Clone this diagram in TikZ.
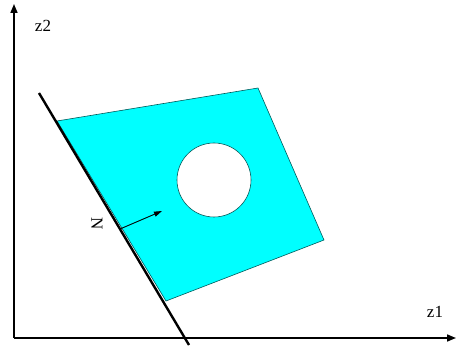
\documentclass[tikz,border=0pt]{standalone}
\usepackage{fontspec}
\setmainfont{Liberation Serif}
\usetikzlibrary{arrows.meta}
\definecolor{aqua}{RGB}{0,255,255}
\definecolor{edge}{RGB}{0,90,90}
\begin{document}
\begin{tikzpicture}[x=1pt,y=-1pt,
  axis/.style={line width=1.6pt,-{Triangle[length=9pt,width=7pt]}},
  lbl/.style={font=\fontsize{17}{17}\selectfont,inner sep=0pt}]
\useasboundingbox (0,0) rectangle (458,347);
\coordinate (O) at (14,338);
\coordinate (Y) at (14,4);
\coordinate (X) at (456,338);
\draw[axis] (O) -- (Y);
\draw[axis] (O) -- (X);
\node[lbl] (z2) at (43,26) {z2};
\node[lbl] (z1) at (435,312) {z1};
\coordinate (A) at (57,121);
\coordinate (B) at (258,88);
\coordinate (C) at (324,240);
\coordinate (D) at (166,301);
\draw[fill=aqua,draw=edge,line width=0.6pt] (A) -- (B) -- (C) -- (D) -- cycle;
\node[circle,draw=edge,fill=white,minimum size=74pt,line width=0.6pt,inner sep=0pt] (hole) at (214,180) {};
\coordinate (L1) at (39,93);
\coordinate (L2) at (189,345);
\draw[line width=2.4pt] (L1) -- (L2);
\coordinate (P) at (120,229);
\coordinate (Q) at (162,211);
\draw[line width=0.9pt,-{Triangle[length=8pt,width=5pt]}] (P) -- (Q);
\node[lbl,rotate=-90] (N) at (97,224) {N};
\end{tikzpicture}
\end{document}
